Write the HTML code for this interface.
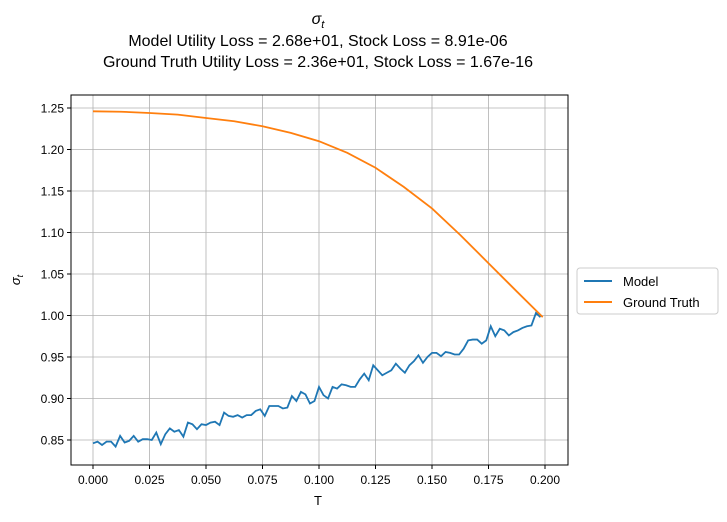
<!DOCTYPE html>
<html><head><meta charset="utf-8"><style>
body{margin:0;background:#fff;}
svg text{font-family:"Liberation Sans","DejaVu Sans",sans-serif;fill:#000;}
</style></head><body>
<svg id="c" width="727" height="517" xmlns="http://www.w3.org/2000/svg">
<text x="318" y="24" text-anchor="middle" font-size="16" font-style="italic">σ<tspan font-size="11" dy="4">t</tspan></text>
<text x="318" y="46" text-anchor="middle" font-size="16">Model Utility Loss = 2.68e+01, Stock Loss = 8.91e-06</text>
<text x="318" y="67" text-anchor="middle" font-size="16">Ground Truth Utility Loss = 2.36e+01, Stock Loss = 1.67e-16</text>
<g id="grid"></g><g id="ticks"></g><g id="series"></g>
<rect x="71" y="95" width="497" height="370" fill="none" stroke="#000" stroke-width="1"/>
<text x="318" y="505" text-anchor="middle" font-size="13">T</text>
<text transform="translate(20,280) rotate(-90)" text-anchor="middle" font-size="13" font-style="italic">σ<tspan font-size="9" dy="3">t</tspan></text>
<g>
<rect x="577" y="268" width="141" height="46" rx="3" fill="#fff" stroke="#ccc"/>
<line x1="584" y1="281" x2="612" y2="281" stroke="#1f77b4" stroke-width="2"/>
<text x="623" y="286" font-size="13">Model</text>
<line x1="584" y1="302" x2="612" y2="302" stroke="#ff7f0e" stroke-width="2"/>
<text x="623" y="307" font-size="13">Ground Truth</text>
</g>
</svg>
<script>
const xTicks=[0,0.025,0.05,0.075,0.1,0.125,0.15,0.175,0.2];
const xTickLabels=["0.000","0.025","0.050","0.075","0.100","0.125","0.150","0.175","0.200"];
const yTicks=[0.85,0.9,0.95,1.0,1.05,1.1,1.15,1.2,1.25];
const yTickLabels=["0.85","0.90","0.95","1.00","1.05","1.10","1.15","1.20","1.25"];
const modelValues=[0.846,0.848,0.844,0.848,0.848,0.842,0.855,0.847,0.849,0.855,
0.848,0.851,0.851,0.850,0.859,0.845,0.857,0.864,0.860,0.862,
0.854,0.871,0.869,0.863,0.869,0.868,0.871,0.872,0.868,0.883,
0.879,0.878,0.880,0.877,0.880,0.880,0.885,0.887,0.879,0.891,
0.891,0.891,0.888,0.889,0.903,0.897,0.908,0.905,0.894,0.897,
0.914,0.904,0.900,0.914,0.912,0.917,0.916,0.914,0.914,0.923,
0.930,0.922,0.940,0.934,0.928,0.931,0.934,0.942,0.936,0.931,
0.940,0.945,0.952,0.943,0.950,0.955,0.955,0.951,0.956,0.955,
0.953,0.953,0.960,0.970,0.971,0.971,0.966,0.970,0.987,0.975,
0.984,0.982,0.976,0.980,0.982,0.985,0.987,0.988,1.003,0.998];
const modelStep=0.002;
const gtT=[0,0.0125,0.025,0.0375,0.05,0.0625,0.075,0.0875,0.1,0.1125,0.125,0.1375,0.15,0.1625,0.175,0.1875,0.199];
const gtValues=[1.246,1.2455,1.244,1.242,1.238,1.234,1.228,1.220,1.210,1.196,1.178,1.155,1.129,1.097,1.063,1.029,0.998];
const X=t=>93+t*(545-93)/0.2;
const Y=v=>440-(v-0.85)*(332/0.4);
const NS="http://www.w3.org/2000/svg";
function mk(tag,attrs,parent){const e=document.createElementNS(NS,tag);for(const k in attrs)e.setAttribute(k,attrs[k]);document.getElementById(parent).appendChild(e);return e;}
xTicks.forEach((t,i)=>{
const g=mk('line',{x1:X(t),x2:X(t),y1:95,y2:465,stroke:'#b0b0b0','stroke-width':0.8},'grid');


mk('line',{x1:X(t),x2:X(t),y1:465,y2:469,stroke:'#000'},'ticks');
const tx=mk('text',{x:X(t),y:484,'text-anchor':'middle','font-size':12},'ticks');
tx.textContent=xTickLabels[i];


});
yTicks.forEach((v,i)=>{
const g=mk('line',{x1:71,x2:568,y1:Y(v),y2:Y(v),stroke:'#b0b0b0','stroke-width':0.8},'grid');


mk('line',{x1:67,x2:71,y1:Y(v),y2:Y(v),stroke:'#000'},'ticks');
const tx=mk('text',{x:64,y:Y(v)+4.5,'text-anchor':'end','font-size':12},'ticks');
tx.textContent=yTickLabels[i];


});
const mp=mk('polyline',{points:modelValues.map((v,i)=>X(i*modelStep)+','+Y(v)).join(' '),fill:'none',stroke:'#1f77b4','stroke-width':1.8},'series');


const gp=mk('polyline',{points:gtValues.map((v,i)=>X(gtT[i])+','+Y(v)).join(' '),fill:'none',stroke:'#ff7f0e','stroke-width':1.8},'series');


</script>
</body></html>
